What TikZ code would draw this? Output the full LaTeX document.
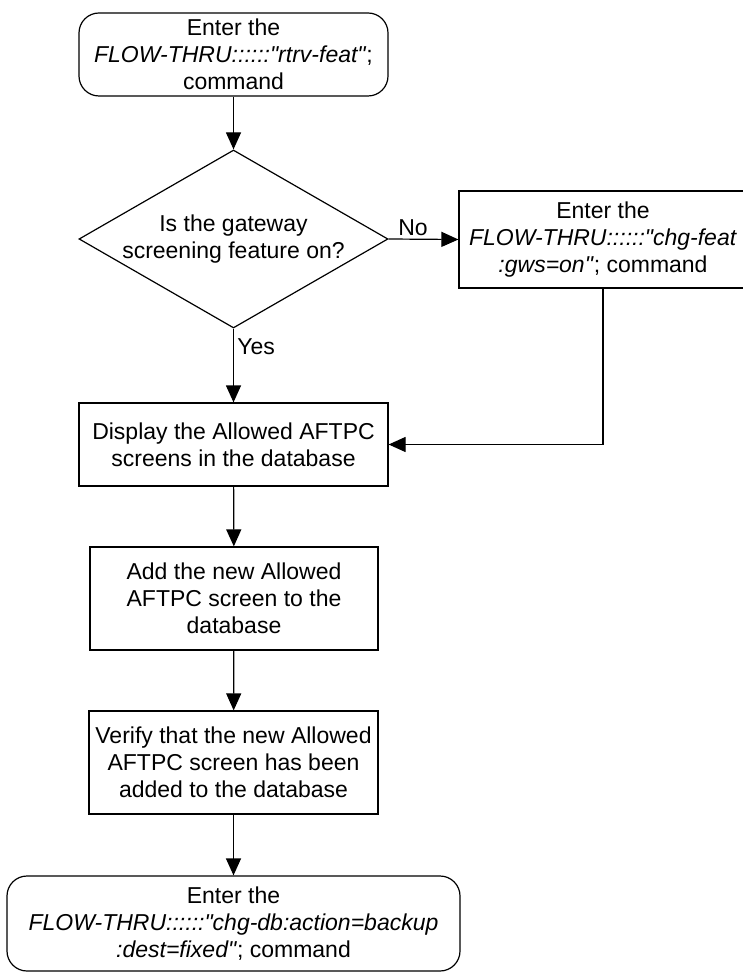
\documentclass[tikz,border=0pt]{standalone}
\usepackage{fontspec}
\setmainfont{Liberation Sans}[Ligatures=TeXOff]
\usetikzlibrary{shapes.geometric,arrows.meta}
\begin{document}
\begin{tikzpicture}[x=1pt,y=-1pt,line width=1.2pt,
  font=\fontsize{23}{27}\selectfont,
  term/.style={draw,rounded corners=20pt,align=center,inner sep=0pt},
  proc/.style={draw,align=center,inner sep=0pt},
  decision/.style={draw,diamond,aspect=1.74,align=center,inner sep=0pt},
  flow/.style={-{Triangle[length=17pt,width=15pt]}}]
  \useasboundingbox (0,0) rectangle (743,973);
  \node[term,minimum width=309pt,minimum height=83pt] (start) at (233.5,54.5)
    {Enter the\\\textit{FLOW-THRU::::::"rtrv-feat"};\\command};
  \node[decision,minimum width=309pt,minimum height=178pt] (gws) at (233.5,239)
    {Is the gateway\\screening feature on?};
  \node[proc,minimum width=288pt,minimum height=97pt] (chgfeat) at (603,239.5)
    {Enter the\\\textit{FLOW-THRU::::::"chg-feat}\\\textit{:gws=on"}; command};
  \node[proc,minimum width=309pt,minimum height=83pt] (disp) at (233.5,444.5)
    {Display the Allowed AFTPC\\screens in the database};
  \node[proc,minimum width=288pt,minimum height=103pt] (add) at (234,598.5)
    {Add the new Allowed\\AFTPC screen to the\\database};
  \node[proc,minimum width=289pt,minimum height=103pt] (verify) at (233.5,762.5)
    {Verify that the new Allowed\\AFTPC screen has been\\added to the database};
  \node[term,minimum width=453pt,minimum height=95pt] (backup) at (233.5,923.5)
    {Enter the\\\textit{FLOW-THRU::::::"chg-db:action=backup}\\\textit{:dest=fixed"}; command};
  \draw[flow] (start) -- (gws);
  \draw[flow] (gws.east) -- node[above,pos=0.35] (no) {No} (chgfeat.west);
  \draw[flow] (gws.south) -- node[right,pos=0.25] (yes) {Yes} (disp.north);
  \draw[flow] (chgfeat.south) |- (disp.east);
  \draw[flow] (disp) -- (add);
  \draw[flow] (add) -- (verify);
  \draw[flow] (verify) -- (backup);
\end{tikzpicture}
\end{document}
